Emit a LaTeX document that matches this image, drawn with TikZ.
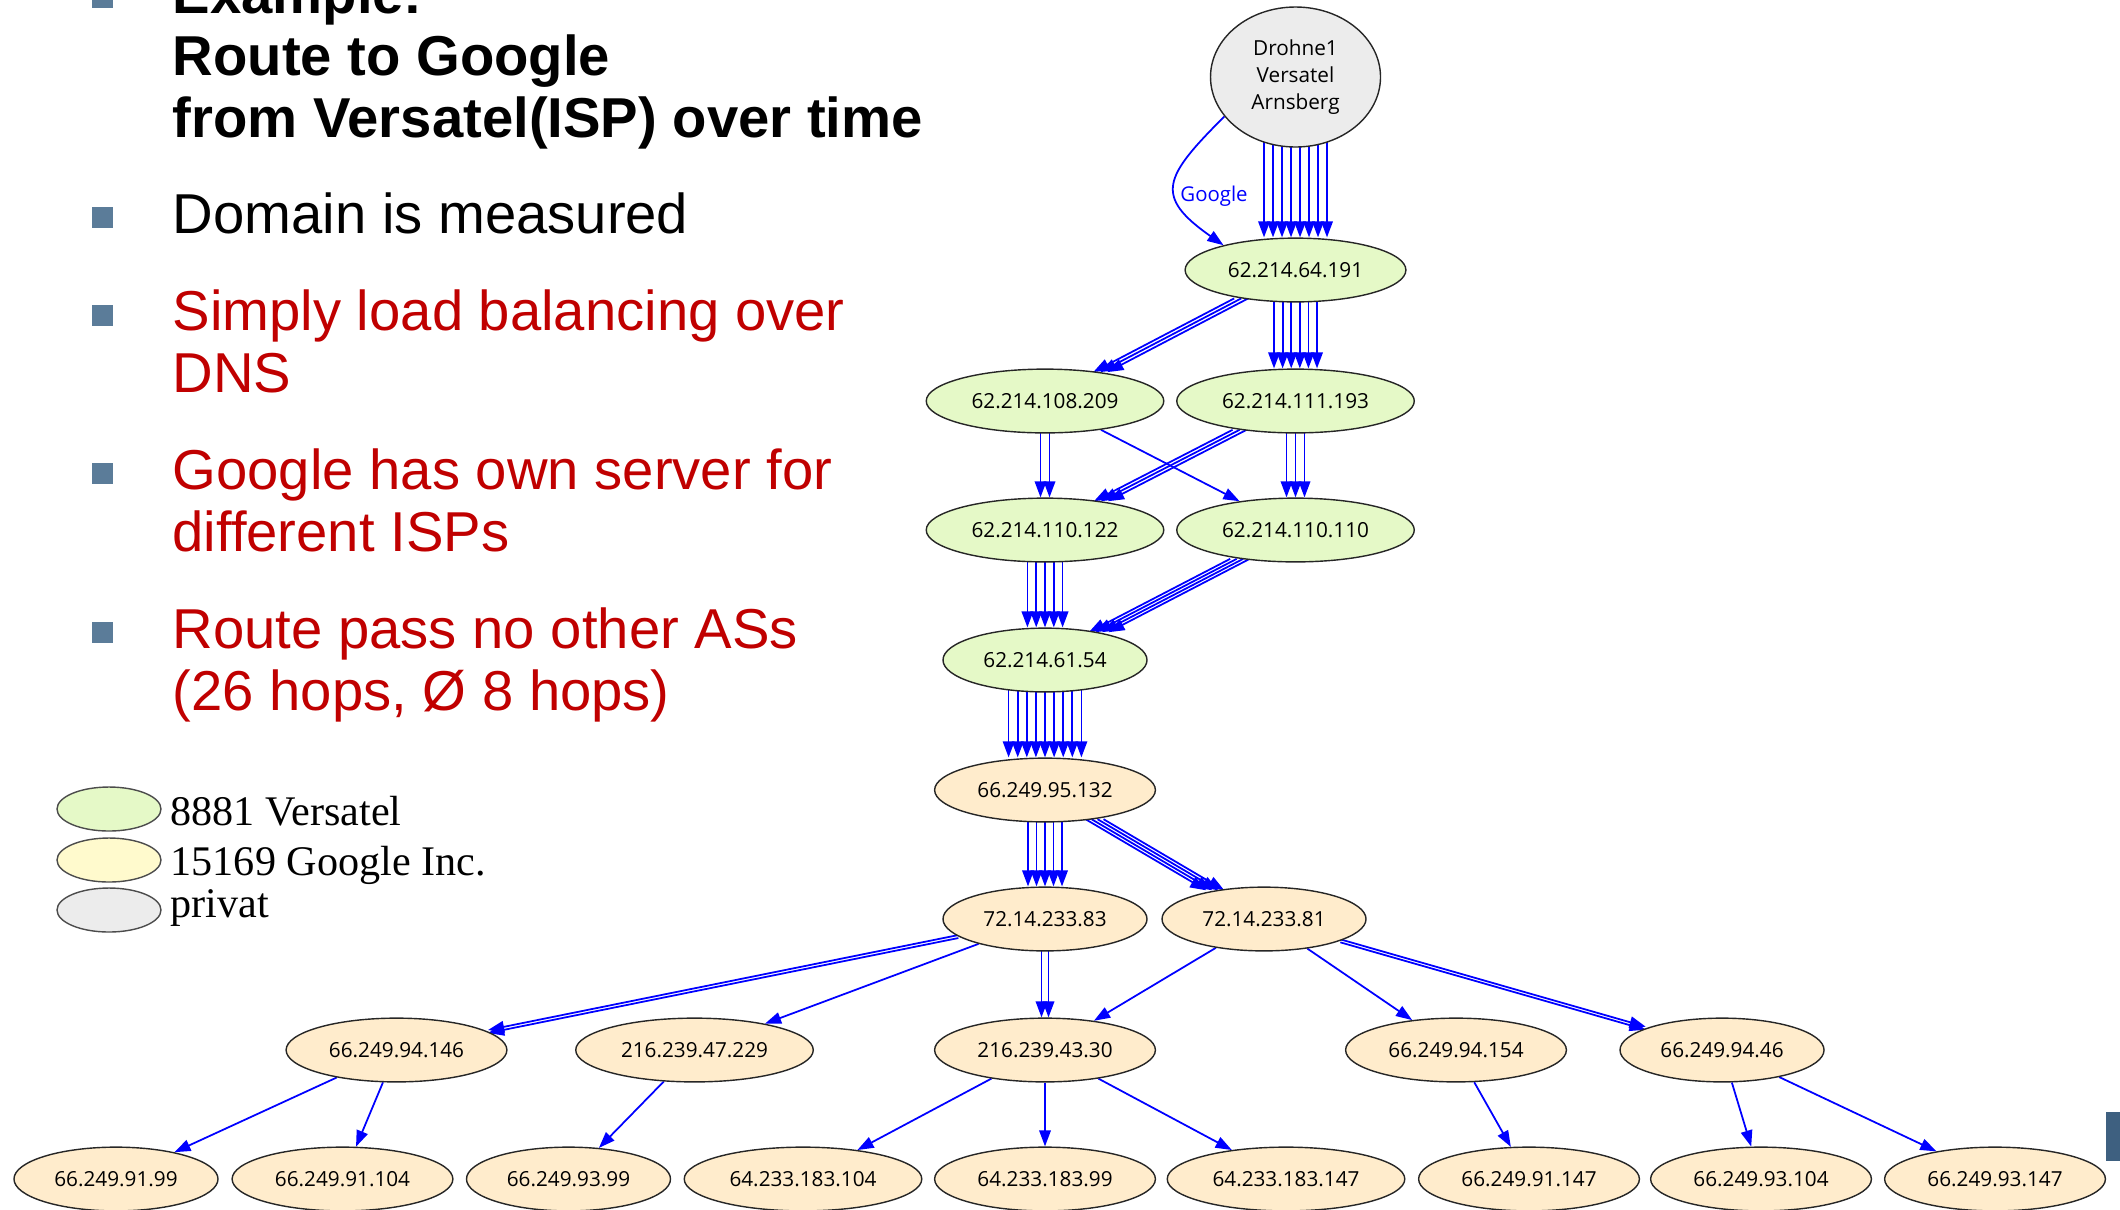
\documentclass[tikz,border=0pt]{standalone}
\usepackage{fontspec}
\setmainfont{Liberation Sans}
\newfontfamily\keyfont{Liberation Serif}
\newfontfamily\ipfont{Open Sans}
\usetikzlibrary{positioning,shapes.geometric,arrows.meta,backgrounds}

\definecolor{versatelgreen}{RGB}{229,249,199}
\definecolor{googlepeach}{RGB}{255,236,204}
\definecolor{googlekey}{RGB}{255,250,205}
\definecolor{privatgray}{RGB}{236,236,236}
\definecolor{bulletblue}{RGB}{91,124,153}
\definecolor{slidered}{RGB}{192,0,0}
\definecolor{cornerblue}{RGB}{62,96,128}

\tikzset{
  hop/.style={ellipse, draw=black!85, line width=0.4pt,
    font=\ipfont\fontsize{5.9pt}{7pt}\selectfont,
    inner xsep=0.105cm, inner ysep=0.153cm, text height=0.145cm, text depth=0pt},
  versatel/.style={hop, fill=versatelgreen},
  google/.style={hop, fill=googlepeach},
  route/.style={blue, line width=0.5pt, ->},
  sqbullet/.style={fill=bulletblue, minimum size=0.21cm, inner sep=0pt},
  slide/.style={anchor=base west, align=left, inner sep=0pt,
    font=\fontsize{16pt}{17.6pt}\selectfont},
  keyshape/.style={ellipse, draw=black!70, line width=0.4pt,
    minimum width=1.04cm, minimum height=0.44cm, inner sep=0pt},
  keytext/.style={anchor=base west, inner sep=0pt,
    font=\keyfont\fontsize{12pt}{14pt}\selectfont},
}

\begin{document}
\begin{tikzpicture}[>={Triangle[length=4.6pt,width=3.3pt]}]
  \clip (0,0) rectangle (21.2,-12.09);

  % slide text (multi-line nodes sit on their last baseline)
  \node[sqbullet] (b0) at (1.025,0.03) {};
  \node[slide, font=\bfseries\fontsize{16pt}{17.6pt}\selectfont] (title) at (1.72,-1.37)
    {Example:\\Route to Google\\from Versatel(ISP) over time};
  \node[sqbullet] (b1) at (1.025,-2.17) {};
  \node[slide] (t1) at (1.72,-2.33) {Domain is measured};
  \node[sqbullet] (b2) at (1.025,-3.15) {};
  \node[slide, text=slidered] (t2) at (1.72,-3.92) {Simply load balancing over\\DNS};
  \node[sqbullet] (b3) at (1.025,-4.73) {};
  \node[slide, text=slidered] (t3) at (1.72,-5.51) {Google has own server for\\different ISPs};
  \node[sqbullet] (b4) at (1.025,-6.32) {};
  \node[slide, text=slidered] (t4) at (1.72,-7.10) {Route pass no other ASs\\(26 hops, Ø 8 hops)};

  % legend
  \node[keyshape, fill=versatelgreen] (key_versatel) at (1.09,-8.09) {};
  \node[keytext] (key_versatel_label) at (1.70,-8.25) {8881 Versatel};
  \node[keyshape, fill=googlekey] (key_google) at (1.09,-8.60) {};
  \node[keytext] (key_google_label) at (1.70,-8.75) {15169 Google Inc.};
  \node[keyshape, fill=privatgray] (key_privat) at (1.09,-9.10) {};
  \node[keytext] (key_privat_label) at (1.70,-9.17) {privat};

  % hops
  \node[ellipse, draw=black!85, line width=0.4pt, fill=privatgray, align=center,
    font=\ipfont\fontsize{5.9pt}{7.7pt}\selectfont,
    minimum width=1.7cm, minimum height=1.4cm, inner sep=0pt] (drohne) at (12.955,-0.77)
    {Drohne1\\Versatel\\Arnsberg};
  \node[versatel] (hop1) at (12.955,-2.70) {62.214.64.191};
  \node[versatel] (hop2a) at (10.45,-4.01) {62.214.108.209};
  \node[versatel] (hop2b) at (12.955,-4.01) {62.214.111.193};
  \node[versatel] (hop3a) at (10.45,-5.30) {62.214.110.122};
  \node[versatel] (hop3b) at (12.955,-5.30) {62.214.110.110};
  \node[versatel] (hop4) at (10.45,-6.60) {62.214.61.54};
  \node[google] (gw1) at (10.45,-7.90) {66.249.95.132};
  \node[google] (gw2a) at (10.45,-9.19) {72.14.233.83};
  \node[google] (gw2b) at (12.64,-9.19) {72.14.233.81};
  \node[google] (srv1) at (3.965,-10.50) {66.249.94.146};
  \node[google] (srv2) at (6.945,-10.50) {216.239.47.229};
  \node[google] (srv3) at (10.45,-10.50) {216.239.43.30};
  \node[google] (srv4) at (14.56,-10.50) {66.249.94.154};
  \node[google] (srv5) at (17.22,-10.50) {66.249.94.46};
  \node[google] (leaf1) at (1.16,-11.79) {66.249.91.99};
  \node[google] (leaf2) at (3.425,-11.79) {66.249.91.104};
  \node[google] (leaf3) at (5.685,-11.79) {66.249.93.99};
  \node[google] (leaf4) at (8.03,-11.79) {64.233.183.104};
  \node[google] (leaf5) at (10.45,-11.79) {64.233.183.99};
  \node[google] (leaf6) at (12.86,-11.79) {64.233.183.147};
  \node[google] (leaf7) at (15.29,-11.79) {66.249.91.147};
  \node[google] (leaf8) at (17.61,-11.79) {66.249.93.104};
  \node[google] (leaf9) at (19.95,-11.79) {66.249.93.147};

  \fill[cornerblue] (21.06,-11.12) rectangle (21.2,-11.61);

  % routes
  \begin{pgfonlayer}{background}
    \draw[route] (drohne.209) to[out=225, in=145, looseness=1.7]
      node[pos=0.6, right, inner sep=1pt, text=blue, font=\ipfont\fontsize{5.8pt}{7pt}\selectfont] (google_label) {Google} (hop1.161);
    \foreach \dx in {-3.5,-2.5,...,3.5}
      \draw[route] ([xshift=\dx*0.09cm]drohne.center) -- ([xshift=\dx*0.09cm]hop1.north);

    \foreach \dx in {-1,0,1}
      \draw[route, transform canvas={xshift=\dx*0.07cm}] (hop1) -- (hop2a);
    \foreach \dx in {-2.5,-1.5,...,2.5}
      \draw[route] ([xshift=\dx*0.086cm]hop1.center) -- ([xshift=\dx*0.086cm]hop2b.north);

    \foreach \dx in {-0.5,0.5}
      \draw[route] ([xshift=\dx*0.09cm]hop2a.center) -- ([xshift=\dx*0.09cm]hop3a.north);
    \draw[route] (hop2a) -- (hop3b);
    \foreach \dx in {-1,0,1}
      \draw[route, transform canvas={xshift=\dx*0.07cm}] (hop2b) -- (hop3a);
    \foreach \dx in {-1,0,1}
      \draw[route] ([xshift=\dx*0.09cm]hop2b.center) -- ([xshift=\dx*0.09cm]hop3b.north);

    \foreach \dx in {-2,...,2}
      \draw[route] ([xshift=\dx*0.088cm]hop3a.center) -- ([xshift=\dx*0.088cm]hop4.north);
    \foreach \dx in {-1.5,-0.5,...,1.5}
      \draw[route, transform canvas={xshift=\dx*0.065cm}] (hop3b) -- (hop4);

    \foreach \dx in {-4,...,4}
      \draw[route] ([xshift=\dx*0.091cm]hop4.center) -- ([xshift=\dx*0.091cm]gw1.north);

    \foreach \dx in {-2,...,2}
      \draw[route] ([xshift=\dx*0.085cm]gw1.center) -- ([xshift=\dx*0.085cm]gw2a.north);
    \foreach \dx in {-1.5,-0.5,...,1.5}
      \draw[route, transform canvas={xshift=\dx*0.06cm}] (gw1) -- (gw2b);

    \foreach \dy in {-1,1}
      \draw[route, transform canvas={yshift=\dy*0.015cm}] (gw2a) -- (srv1);
    \draw[route] (gw2a) -- (srv2);
    \foreach \dx in {-0.5,0.5}
      \draw[route] ([xshift=\dx*0.07cm]gw2a.center) -- ([xshift=\dx*0.07cm]srv3.north);
    \draw[route] (gw2b) -- (srv3);
    \draw[route] (gw2b) -- (srv4);
    \foreach \dy in {-1,1}
      \draw[route, transform canvas={yshift=\dy*0.015cm}] (gw2b) -- (srv5);

    \draw[route] (srv1) -- (leaf1);
    \draw[route] (srv1) -- (leaf2);
    \draw[route] (srv2) -- (leaf3);
    \draw[route] (srv3) -- (leaf4);
    \draw[route] (srv3) -- (leaf5);
    \draw[route] (srv3) -- (leaf6);
    \draw[route] (srv4) -- (leaf7);
    \draw[route] (srv5) -- (leaf8);
    \draw[route] (srv5) -- (leaf9);
  \end{pgfonlayer}
\end{tikzpicture}
\end{document}
